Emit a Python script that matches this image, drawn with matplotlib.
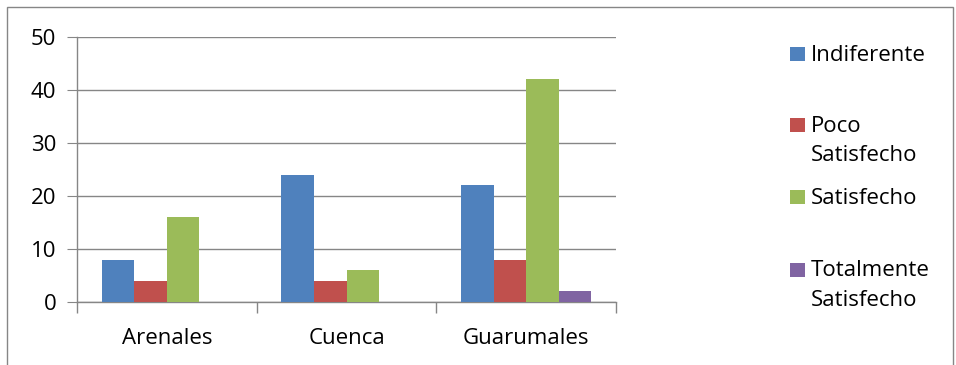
import matplotlib
matplotlib.use("Agg")
import matplotlib.pyplot as plt
from matplotlib.patches import Rectangle
import numpy as np

plt.rcParams['font.family'] = ['Open Sans', 'DejaVu Sans']

categories = ["Arenales", "Cuenca", "Guarumales"]
series_names = ["Indiferente", "Poco\nSatisfecho", "Satisfecho", "Totalmente\nSatisfecho"]
indiferente = [8, 24, 22]
poco_satisfecho = [4, 4, 8]
satisfecho = [16, 6, 42]
totalmente_satisfecho = [0, 0, 2]
y_ticks = [0, 10, 20, 30, 40, 50]

series_values = [indiferente, poco_satisfecho, satisfecho, totalmente_satisfecho]
colors = ["#4F81BD", "#C0504D", "#9BBB59", "#8064A2"]

FS = 16
W, H = 956, 365
fig = plt.figure(figsize=(W / 100, H / 100), dpi=100)

# outer chart frame (bottom edge runs off the canvas)
fig.patches.append(Rectangle((7 / W, -0.1), (953 - 7) / W, (H - 7) / H + 0.1,
                             transform=fig.transFigure, fill=False,
                             edgecolor="#868686", linewidth=1.0))

ax = fig.add_axes([77 / W, (H - 302) / H, (616 - 77) / W, (302 - 37) / H])

x = np.arange(len(categories))
bw = 0.181
for i, (vals, c) in enumerate(zip(series_values, colors)):
    ax.bar(x + (i - 1.5) * bw, vals, width=bw, color=c, zorder=3, linewidth=0)

ax.set_xlim(-0.5, len(categories) - 0.5)
ax.set_ylim(0, 50)
ax.set_yticks(y_ticks)
ax.set_yticklabels([str(t) for t in y_ticks], fontsize=FS)
ax.yaxis.grid(True, color="#868686", linewidth=1.0, zorder=0)
ax.tick_params(axis="y", length=7, color="#868686", pad=8)

ax.set_xticks(x)
ax.set_xticklabels(categories, fontsize=FS)
ax.tick_params(axis="x", length=0, pad=19)
ax.set_xticks(np.arange(len(categories) + 1) - 0.5, minor=True)
ax.tick_params(axis="x", which="minor", length=8, color="#868686", width=1.0)

for s in ["top", "right"]:
    ax.spines[s].set_visible(False)
for s in ["left", "bottom"]:
    ax.spines[s].set_color("#868686")
    ax.spines[s].set_linewidth(1.0)

# legend on the right
leg_y = [54, 125, 197, 269.5]
for name, c, yc in zip(series_names, colors, leg_y):
    fig.patches.append(Rectangle((790 / W, (H - yc - 7) / H), 15 / W, 14 / H,
                                 transform=fig.transFigure, facecolor=c,
                                 edgecolor="none"))
    fig.text(811 / W, (H - yc + 9) / H, name, fontsize=FS, va="top",
             ha="left", linespacing=1.5, color="black")

fig.savefig("out.png", dpi=100)
